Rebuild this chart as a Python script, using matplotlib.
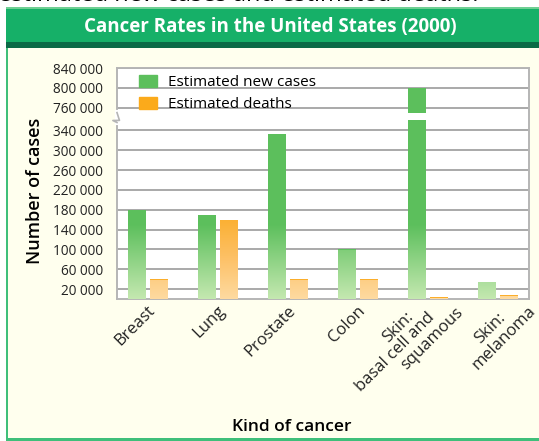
import numpy as np
import matplotlib
matplotlib.use("Agg")
from matplotlib import pyplot as plt
from matplotlib.patches import Rectangle, Patch
from matplotlib.colors import LinearSegmentedColormap
from matplotlib.transforms import ScaledTranslation

# data
categories = ["Breast", "Lung", "Prostate", "Colon",
              "Skin:\nbasal cell and\nsquamous", "Skin:\nmelanoma"]
new_cases = [180000, 170000, 332000, 100000, 800000, 35000]
deaths = [40000, 160000, 40000, 40000, 4000, 8000]
ytick_values = [20000, 60000, 100000, 140000, 180000, 220000, 260000,
                300000, 340000, 760000, 800000, 840000]

plt.rcParams['font.family'] = ['Open Sans', 'DejaVu Sans']

W, H = 539, 441
fig = plt.figure(figsize=(W / 100, H / 100), dpi=100)
fig.patch.set_facecolor("white")

def fx(x):
    return x / W

def fy(y):
    return 1 - y / H

def box(x0, y0, x1, y1, color):
    fig.add_artist(Rectangle((fx(x0), fy(y1)), fx(x1) - fx(x0), fy(y0) - fy(y1),
                             transform=fig.transFigure, color=color, lw=0, zorder=-5))

# page frame: cream panel, green border, green header band
box(6, 44, W, H, "#3fbf7a")
box(8, 48, W, H - 3, "#ffffee")
box(6, 7, W, 45, "#16b068")
box(6, 7, W, 9, "#6fcf93")
box(6, 42, W, 48, "#0b6a46")
fig.text(fx(270), fy(27), "Cancer Rates in the United States (2000)",
         color="white", fontsize=13.5, fontweight="bold", ha="center", va="center")
# cut-off line of page text at the very top
fig.text(fx(-2), fy(1), "estimated new cases and estimated deaths.",
         fontsize=17, ha="left", va="baseline", color="black")

# broken y axis: squeeze 360k..750k into a small gap
LO, HI, GAP = 360000, 750000, 16000

def fwd(y):
    y = np.asarray(y, dtype=float)
    return np.where(y <= LO, y,
                    np.where(y >= HI, y - (HI - LO) + GAP,
                             LO + (y - LO) * GAP / (HI - LO)))

def inv(v):
    v = np.asarray(v, dtype=float)
    return np.where(v <= LO, v,
                    np.where(v >= LO + GAP, v + (HI - LO) - GAP,
                             LO + (v - LO) * (HI - LO) / GAP))

ax = fig.add_axes([fx(117), fy(299), fx(529) - fx(117), fy(68) - fy(299)])
ax.set_yscale("function", functions=(fwd, inv))
ax.set_facecolor("white")

green = "#5cbf5c"
orange = "#fbae2c"
green_cmap = LinearSegmentedColormap.from_list("g", ["#c4e8b0", green])
orange_cmap = LinearSegmentedColormap.from_list("o", ["#fedaa0", "#fdc064", orange])
grad = np.linspace(0, 1, 256).reshape(-1, 1)

x = np.arange(len(categories))
bw = 0.26
off = 0.157

bars_new = ax.bar(x - off, new_cases, bw, color=green, zorder=3)
bars_dead = ax.bar(x + off, deaths, bw, color=orange, zorder=3)

for bars, cmap, top in [(bars_new, green_cmap, 150000), (bars_dead, orange_cmap, 170000)]:
    for b in bars:
        im = ax.imshow(grad, cmap=cmap, origin="lower", aspect="auto", zorder=3.5,
                       extent=(b.get_x(), b.get_x() + b.get_width(), 0, top))
        im.set_clip_path(b)

# white break through the tall bar
ax.bar(x[4] - off, 748000 - 363000, bw * 1.1, bottom=363000, color="white", zorder=4)

ax.set_xlim(-0.443, 5.443)
ax.set_ylim(0, 840000)
ax.set_yticks(ytick_values)
ax.set_yticklabels([f"{v // 1000} 000" for v in ytick_values])
ax.set_xticks(x)
ax.set_xticklabels([])
ax.tick_params(axis="both", length=0, colors="#222222")
ax.tick_params(axis="y", pad=10, labelsize=9.8)
ax.grid(axis="y", color="#a9a9a9", lw=1.4, zorder=1)
for s in ax.spines.values():
    s.set_color("#b5b5b5")
    s.set_linewidth(1.4)

# category labels, rotated 45 degrees, one text per line so the
# staggered line layout of the original can be kept
c45 = np.cos(np.pi / 4)
anchor_px = [(5, 9.5), (5, 9.5), (5, 9.5), (5, 9.5), (33, 11.5), (35, 9.5)]
line_uv = {3: [(-38, -33), (-23, -17), (0, 0)], 2: [(-26, -16), (0, 0)], 1: [(0, 0)]}
xt = ax.get_xaxis_transform()
for i, name in enumerate(categories):
    lines = name.split("\n")
    for line, (u, v) in zip(lines, line_uv[len(lines)]):
        sx = anchor_px[i][0] + (u + v) * c45
        sy = anchor_px[i][1] + (v - u) * c45
        tr = xt + ScaledTranslation(sx / 100, -sy / 100, fig.dpi_scale_trans)
        ax.text(x[i], 0, line, transform=tr, rotation=45, rotation_mode="anchor",
                ha="right", va="center", fontsize=12, color="#222222", clip_on=False)

# zig-zag on the left spine at the break
zz_t = ax.get_yaxis_transform()
ax.plot([0, 0], [355000, 752000], transform=zz_t, color="white", lw=3, zorder=5, clip_on=False)
ax.plot([0, -0.010, 0.006, 0], [356000, 363000, 368000, 750000], transform=zz_t,
        color="#b5b5b5", lw=1.2, zorder=6, clip_on=False)

ax.set_ylabel("Number of cases", fontsize=13, fontweight="semibold")
ax.yaxis.set_label_coords(-0.178, 0.47)
ax.set_xlabel("Kind of cancer", fontsize=12.5, fontweight="semibold")
ax.xaxis.set_label_coords(0.425, -0.52)

handles = [Patch(color=green, label="Estimated new cases"),
           Patch(color="#fbaa1b", label="Estimated deaths")]
ax.legend(handles=handles, loc="upper left", bbox_to_anchor=(0.03, 1.01), frameon=False,
          fontsize=11, handlelength=1.2, handleheight=0.8, labelspacing=0.45,
          handletextpad=0.7, borderaxespad=0.2)

fig.savefig("out.png", dpi=100, facecolor=fig.get_facecolor())
